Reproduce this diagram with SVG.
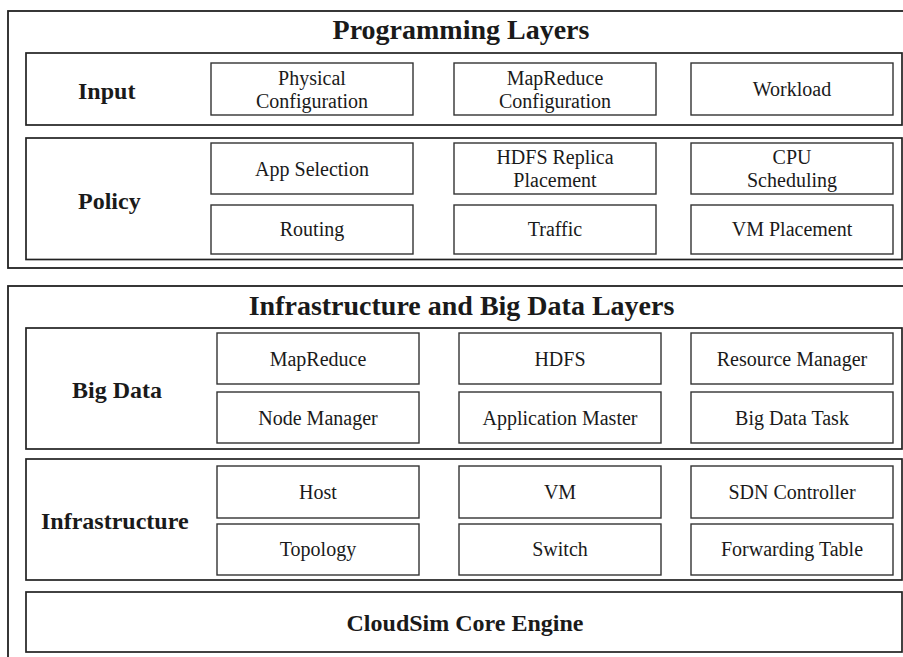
<svg xmlns="http://www.w3.org/2000/svg" width="903" height="657" viewBox="0 0 903 657">
<style>
.frame{fill:#fff;stroke:#222;stroke-width:1.8}
.panel{fill:#fff;stroke:#222;stroke-width:1.7}
.cell{fill:#fff;stroke:#333;stroke-width:1.4}
text{font-family:"Liberation Serif","Times New Roman",serif;fill:#1a1a1a}
.title{font-size:28px;font-weight:bold;text-anchor:middle}
.lab{font-size:24px;font-weight:bold}
.ct{font-size:20px;text-anchor:middle}
</style>
<rect width="903" height="657" fill="#fff"/>
<g id="programming-layers">
<rect class="frame" x="8" y="11" width="906" height="257"/>
<text class="title" x="461" y="39">Programming Layers</text>
</g>
<g id="input">
<rect class="panel" x="26" y="53" width="876" height="72"/>
<text class="lab" x="78" y="99">Input</text>
</g>
<g id="physical-configuration">
<rect class="cell" x="211" y="63" width="202" height="52"/>
<text class="ct" x="312" y="85">Physical</text>
<text class="ct" x="312" y="108">Configuration</text>
</g>
<g id="mapreduce-configuration">
<rect class="cell" x="454" y="63" width="202" height="52"/>
<text class="ct" x="555" y="85">MapReduce</text>
<text class="ct" x="555" y="108">Configuration</text>
</g>
<g id="workload">
<rect class="cell" x="691" y="63" width="202" height="52"/>
<text class="ct" x="792" y="96">Workload</text>
</g>
<g id="policy">
<rect class="panel" x="26" y="138" width="876" height="121.5"/>
<text class="lab" x="78" y="209">Policy</text>
</g>
<g id="app-selection">
<rect class="cell" x="211" y="143" width="202" height="51"/>
<text class="ct" x="312" y="176">App Selection</text>
</g>
<g id="hdfs-replica-placement">
<rect class="cell" x="454" y="143" width="202" height="51"/>
<text class="ct" x="555" y="164">HDFS Replica</text>
<text class="ct" x="555" y="187">Placement</text>
</g>
<g id="cpu-scheduling">
<rect class="cell" x="691" y="143" width="202" height="51"/>
<text class="ct" x="792" y="164">CPU</text>
<text class="ct" x="792" y="187">Scheduling</text>
</g>
<g id="routing">
<rect class="cell" x="211" y="205" width="202" height="49"/>
<text class="ct" x="312" y="236">Routing</text>
</g>
<g id="traffic">
<rect class="cell" x="454" y="205" width="202" height="49"/>
<text class="ct" x="555" y="236">Traffic</text>
</g>
<g id="vm-placement">
<rect class="cell" x="691" y="205" width="202" height="49"/>
<text class="ct" x="792" y="236">VM Placement</text>
</g>
<g id="infrastructure-and-big-data-layers">
<rect class="frame" x="8" y="286" width="906" height="380"/>
<text class="title" x="461.5" y="315">Infrastructure and Big Data Layers</text>
</g>
<g id="big-data">
<rect class="panel" x="26" y="328" width="876" height="121"/>
<text class="lab" x="72" y="398">Big Data</text>
</g>
<g id="mapreduce">
<rect class="cell" x="217" y="333" width="202" height="51"/>
<text class="ct" x="318" y="366">MapReduce</text>
</g>
<g id="hdfs">
<rect class="cell" x="459" y="333" width="202" height="51"/>
<text class="ct" x="560" y="366">HDFS</text>
</g>
<g id="resource-manager">
<rect class="cell" x="691" y="333" width="202" height="51"/>
<text class="ct" x="792" y="366">Resource Manager</text>
</g>
<g id="node-manager">
<rect class="cell" x="217" y="392" width="202" height="51"/>
<text class="ct" x="318" y="425">Node Manager</text>
</g>
<g id="application-master">
<rect class="cell" x="459" y="392" width="202" height="51"/>
<text class="ct" x="560" y="425">Application Master</text>
</g>
<g id="big-data-task">
<rect class="cell" x="691" y="392" width="202" height="51"/>
<text class="ct" x="792" y="425">Big Data Task</text>
</g>
<g id="infrastructure">
<rect class="panel" x="26" y="459" width="876" height="121"/>
<text class="lab" x="41" y="529">Infrastructure</text>
</g>
<g id="host">
<rect class="cell" x="217" y="466" width="202" height="52"/>
<text class="ct" x="318" y="499">Host</text>
</g>
<g id="vm">
<rect class="cell" x="459" y="466" width="202" height="52"/>
<text class="ct" x="560" y="499">VM</text>
</g>
<g id="sdn-controller">
<rect class="cell" x="691" y="466" width="202" height="52"/>
<text class="ct" x="792" y="499">SDN Controller</text>
</g>
<g id="topology">
<rect class="cell" x="217" y="524" width="202" height="51"/>
<text class="ct" x="318" y="556">Topology</text>
</g>
<g id="switch">
<rect class="cell" x="459" y="524" width="202" height="51"/>
<text class="ct" x="560" y="556">Switch</text>
</g>
<g id="forwarding-table">
<rect class="cell" x="691" y="524" width="202" height="51"/>
<text class="ct" x="792" y="556">Forwarding Table</text>
</g>
<g id="cloudsim-core-engine">
<rect class="panel" x="26" y="592" width="876" height="60"/>
<text class="lab" x="465" y="631" text-anchor="middle">CloudSim Core Engine</text>
</g>
<g id="connectors"></g>
</svg>
